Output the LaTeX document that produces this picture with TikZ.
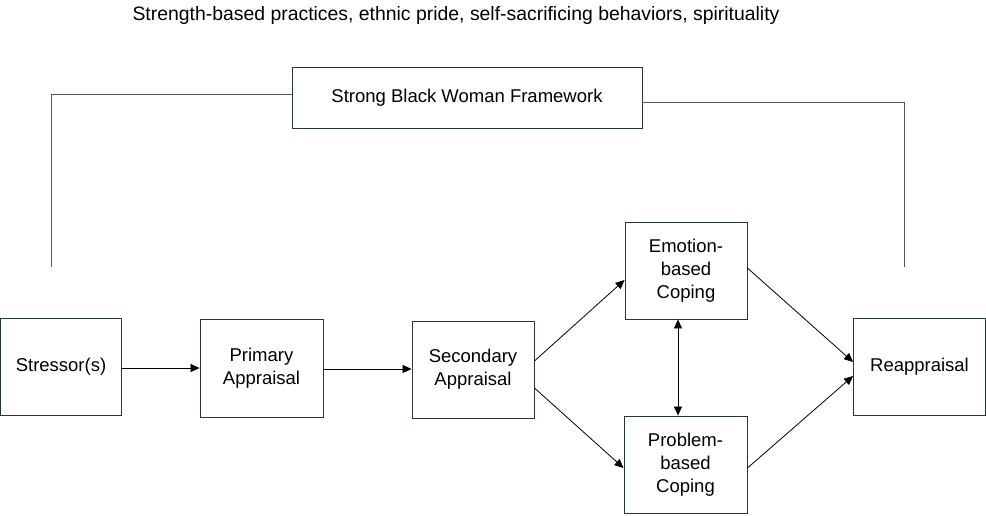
\documentclass[tikz,border=0pt]{standalone}
\usepackage{fontspec}
\setmainfont{Liberation Sans}
\usetikzlibrary{arrows.meta}
\definecolor{boxline}{RGB}{38,55,66}
\definecolor{conn}{RGB}{85,85,85}
\tikzset{
  box/.style={draw=boxline, line width=0.9pt, inner sep=0pt, align=center,
    font=\fontsize{18.5}{23}\selectfont},
  arr/.style={-{Triangle[length=9pt,width=8pt]}, line width=0.8pt, black},
  darr/.style={{Triangle[length=9pt,width=8pt]}-{Triangle[length=9pt,width=8pt]}, line width=0.8pt, black},
  link/.style={draw=conn, line width=1pt},
  lbl/.style={font=\fontsize{19.4}{23}\selectfont, inner sep=0pt}
}
\begin{document}
\begin{tikzpicture}[x=1pt,y=-1pt]
\useasboundingbox (0,0) rectangle (986,515);
\node[lbl, anchor=base] (top) at (456,20) {Strength-based practices, ethnic pride, self-sacrificing behaviors, spirituality};
\node[box, minimum width=350pt, minimum height=61pt] (sbw) at (467,97.5) {Strong Black Woman Framework};
\node[box, minimum width=121pt, minimum height=97pt] (str) at (61,366.5) {Stressor(s)};
\node[box, minimum width=123pt, minimum height=98pt] (pri) at (261.5,368) {Primary\\Appraisal};
\node[box, minimum width=122pt, minimum height=97pt] (sec) at (473,369.5) {Secondary\\Appraisal};
\node[box, minimum width=122pt, minimum height=97pt] (emo) at (686,270.5) {Emotion-\\based\\Coping};
\node[box, minimum width=123pt, minimum height=97pt] (pro) at (685.5,464.5) {Problem-\\based\\Coping};
\node[box, minimum width=132pt, minimum height=97pt] (rea) at (919.5,366.5) {Reappraisal};
\coordinate (lend) at (51.5,267);
\coordinate (rend) at (904,267);
\draw[link] ([yshift=3pt]sbw.west) -| (lend);
\draw[link] ([yshift=-4.5pt]sbw.east) -| (rend);
\draw[arr] ([yshift=-1.5pt]str.east) -- ([yshift=-1.5pt]str.east -| pri.west);
\draw[arr] ([yshift=-1pt]pri.east) -- ([yshift=-1pt]pri.east -| sec.west);
\draw[arr] ([yshift=8.5pt]sec.east) -- ([yshift=-9.5pt]emo.west);
\draw[arr] ([yshift=-18.5pt]sec.east) -- ([yshift=-3.5pt]pro.west);
\draw[darr] ([xshift=-8pt]emo.south) -- ([xshift=-8pt]emo.south |- pro.north);
\draw[arr] ([yshift=2.5pt]emo.east) -- ([yshift=4.5pt]rea.west);
\draw[arr] ([yshift=-3.5pt]pro.east) -- ([yshift=-9.5pt]rea.west);
\end{tikzpicture}
\end{document}
